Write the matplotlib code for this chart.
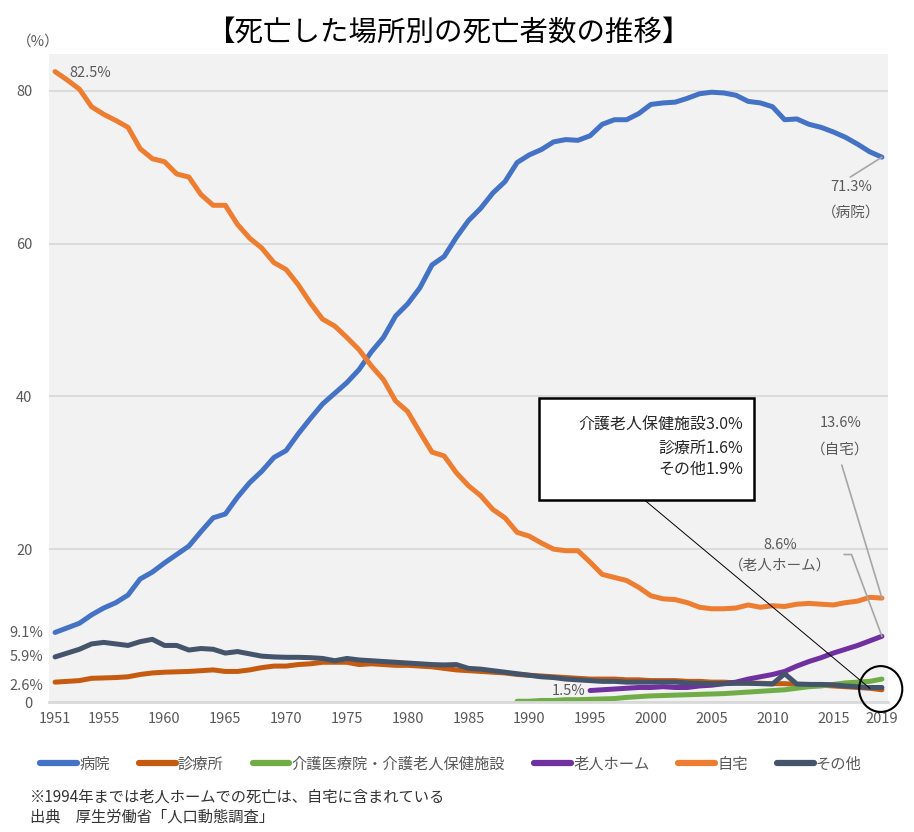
import numpy as np
import matplotlib
matplotlib.use("Agg")
import matplotlib.pyplot as plt
from matplotlib.patches import Rectangle, Ellipse

plt.rcParams['font.family'] = ['Noto Sans CJK JP', 'DejaVu Sans']

# データ（％）
years = list(range(1951, 2020))
hospital = [9.1, 9.7, 10.3, 11.4, 12.3, 13.0, 14.0, 16.1, 17.0, 18.2,
            19.3, 20.4, 22.3, 24.1, 24.6, 26.8, 28.7, 30.2, 32.0, 32.9,
            35.1, 37.1, 39.0, 40.4, 41.8, 43.5, 45.8, 47.7, 50.5, 52.1,
            54.2, 57.2, 58.3, 60.8, 63.0, 64.6, 66.6, 68.1, 70.6, 71.6,
            72.3, 73.3, 73.6, 73.5, 74.1, 75.6, 76.2, 76.2, 77.0, 78.2,
            78.4, 78.5, 79.0, 79.6, 79.8, 79.7, 79.4, 78.6, 78.4, 77.9,
            76.2, 76.3, 75.6, 75.2, 74.6, 73.9, 73.0, 72.0, 71.3]
clinic = [2.6, 2.7, 2.8, 3.1, 3.15, 3.2, 3.3, 3.6, 3.8, 3.9,
          3.95, 4.0, 4.1, 4.2, 4.0, 4.0, 4.2, 4.5, 4.7, 4.7,
          4.9, 5.0, 5.2, 5.2, 5.2, 4.9, 5.0, 4.9, 4.8, 4.8,
          4.7, 4.6, 4.4, 4.2, 4.1, 4.0, 3.9, 3.8, 3.6, 3.5,
          3.4, 3.3, 3.2, 3.1, 3.0, 3.0, 3.0, 2.9, 2.9, 2.8,
          2.8, 2.8, 2.7, 2.7, 2.6, 2.6, 2.5, 2.5, 2.45, 2.4,
          2.4, 2.3, 2.3, 2.2, 2.1, 2.0, 1.9, 1.8, 1.6]
roken_years = list(range(1989, 2020))
roken = [0.1, 0.1, 0.2, 0.2, 0.3, 0.3, 0.35, 0.4, 0.45, 0.6,
         0.7, 0.8, 0.85, 0.9, 0.95, 1.0, 1.05, 1.1, 1.2, 1.3,
         1.4, 1.5, 1.6, 1.8, 2.0, 2.1, 2.3, 2.5, 2.6, 2.7, 3.0]
nhome_years = list(range(1995, 2020))
nhome = [1.5, 1.6, 1.7, 1.8, 1.9, 1.9, 2.0, 1.9, 1.9, 2.1,
         2.2, 2.4, 2.6, 3.0, 3.3, 3.6, 4.0, 4.7, 5.3, 5.8,
         6.4, 6.9, 7.4, 8.0, 8.6]
home = [82.5, 81.4, 80.2, 77.9, 76.9, 76.1, 75.2, 72.4, 71.1, 70.7,
        69.1, 68.7, 66.4, 65.0, 65.0, 62.5, 60.7, 59.4, 57.5, 56.6,
        54.6, 52.2, 50.1, 49.2, 47.7, 46.1, 44.0, 42.2, 39.4, 38.0,
        35.3, 32.7, 32.2, 30.0, 28.3, 27.0, 25.2, 24.1, 22.2, 21.7,
        20.8, 20.0, 19.8, 19.8, 18.3, 16.7, 16.3, 15.9, 15.0, 13.9,
        13.5, 13.4, 13.0, 12.4, 12.2, 12.2, 12.3, 12.7, 12.4, 12.6,
        12.5, 12.8, 12.9, 12.8, 12.7, 13.0, 13.2, 13.7, 13.6]
other = [5.9, 6.4, 6.9, 7.6, 7.8, 7.6, 7.4, 7.9, 8.2, 7.4,
         7.4, 6.8, 7.0, 6.9, 6.4, 6.6, 6.3, 6.0, 5.9, 5.85,
         5.85, 5.8, 5.7, 5.4, 5.7, 5.5, 5.4, 5.3, 5.2, 5.1,
         5.0, 4.9, 4.85, 4.9, 4.4, 4.3, 4.1, 3.9, 3.7, 3.5,
         3.3, 3.2, 3.0, 2.9, 2.8, 2.7, 2.7, 2.6, 2.6, 2.6,
         2.6, 2.6, 2.5, 2.45, 2.4, 2.4, 2.45, 2.45, 2.4, 2.35,
         3.7, 2.35, 2.3, 2.3, 2.25, 2.1, 2.0, 1.9, 1.9]

xtick_years = [1951, 1955, 1960, 1965, 1970, 1975, 1980, 1985, 1990,
               1995, 2000, 2005, 2010, 2015, 2019]

grey = '#595959'
fig = plt.figure(figsize=(9.14, 8.32), dpi=100)
ax = fig.add_axes([49/914, 1-702/832, (888-49)/914, (702-54)/832])
ax.set_facecolor('#F2F2F2')
ax.set_xlim(1950.5, 2019.5)
ax.set_ylim(0, 84.8)

lw = 3.6
ax.plot(years, hospital, color='#4472C4', lw=lw, solid_capstyle='round', solid_joinstyle='round', label='病院')
ax.plot(years, clinic, color='#C55A11', lw=lw, solid_capstyle='round', solid_joinstyle='round', label='診療所')
ax.plot(roken_years, roken, color='#70AD47', lw=lw, solid_capstyle='round', solid_joinstyle='round', label='介護医療院・介護老人保健施設')
ax.plot(nhome_years, nhome, color='#7030A0', lw=lw, solid_capstyle='round', solid_joinstyle='round', label='老人ホーム')
ax.plot(years, home, color='#ED7D31', lw=lw, solid_capstyle='round', solid_joinstyle='round', label='自宅')
ax.plot(years, other, color='#44546A', lw=lw, solid_capstyle='round', solid_joinstyle='round', label='その他')

for s in ['top', 'right', 'left']:
    ax.spines[s].set_visible(False)
ax.spines['bottom'].set_color('#D9D9D9')
ax.spines['bottom'].set_linewidth(2)
ax.set_yticks([0, 20, 40, 60, 80])
ax.grid(axis='y', color='#D9D9D9', lw=1.3)
ax.set_axisbelow(True)
ax.set_xticks(xtick_years)
ax.set_xticklabels([str(y) for y in xtick_years])
ax.tick_params(axis='y', length=0, pad=12, labelsize=10.5, labelcolor=grey)
ax.tick_params(axis='x', length=0, pad=7, labelsize=10.5, labelcolor=grey)

# 左側の値ラベル
ytr = ax.get_yaxis_transform()
ax.text(-0.007, hospital[0] - 0.1, '9.1%', transform=ytr, ha='right', va='center', fontsize=10.5, color=grey)
ax.text(-0.007, other[0], '5.9%', transform=ytr, ha='right', va='center', fontsize=10.5, color=grey)
ax.text(-0.007, clinic[0] - 0.5, '2.6%', transform=ytr, ha='right', va='center', fontsize=10.5, color=grey)
fig.text(38/914, 1-42/832, '（%）', ha='center', va='center', fontsize=10.5, color=grey)

# 注記
ax.text(1952.2, 82.3, '82.5%', ha='left', va='center', fontsize=10.5, color=grey)
ax.text(1994.6, nhome[0], '1.5%', ha='right', va='center', fontsize=10.5, color=grey)

ax.text(2016.5, 67.4, '71.3%', ha='center', va='center', fontsize=10.5, color=grey)
ax.text(2016.5, 64.0, '（病院）', ha='center', va='center', fontsize=10.5, color=grey)
ax.annotate('', xy=(2019, hospital[-1]), xytext=(2016.4, 68.7),
            arrowprops=dict(arrowstyle='-', color='#A6A6A6', lw=1.2, shrinkA=0, shrinkB=0))

ax.text(2015.6, 36.5, '13.6%', ha='center', va='center', fontsize=10.5, color=grey)
ax.text(2015.6, 33.0, '（自宅）', ha='center', va='center', fontsize=10.5, color=grey)
ax.annotate('', xy=(2019, home[-1]), xytext=(2015.7, 31.0),
            arrowprops=dict(arrowstyle='-', color='#A6A6A6', lw=1.2, shrinkA=0, shrinkB=0))

ax.text(2010.6, 20.5, '8.6%', ha='center', va='center', fontsize=10.5, color=grey)
ax.text(2010.6, 17.8, '（老人ホーム）', ha='center', va='center', fontsize=10.5, color=grey)
ax.plot([2015.9, 2016.5, 2019], [19.3, 19.3, nhome[-1]], color='#A6A6A6', lw=1.2)

box = Rectangle((1990.8, 26.4), 17.7, 13.4, facecolor='white', edgecolor='black', lw=1.8, zorder=5)
ax.add_patch(box)
ax.text(2007.6, 36.4, '介護老人保健施設3.0%', ha='right', va='center', fontsize=11.5, color='#262626', zorder=6)
ax.text(2007.6, 33.2, '診療所1.6%', ha='right', va='center', fontsize=11.5, color='#262626', zorder=6)
ax.text(2007.6, 30.4, 'その他1.9%', ha='right', va='center', fontsize=11.5, color='#262626', zorder=6)
ax.plot([1999.5, 2018.0], [26.4, 1.8], color='black', lw=0.7, zorder=4)
ax.add_patch(Ellipse((2018.9, 1.7), 3.55, 6.0, fill=False, edgecolor='black', lw=1.5, clip_on=False, zorder=7))

fig.text(448/914, 1-33/832, '【死亡した場所別の死亡者数の推移】', ha='center', va='center', fontsize=20.5, color='black')

handles, labels = ax.get_legend_handles_labels()
leg = fig.legend(handles, labels, loc='center', bbox_to_anchor=(451/914, 1-764/832), ncol=6,
                 frameon=False, fontsize=11, handlelength=2.4, handletextpad=0.15, columnspacing=1.9)
for t in leg.get_texts():
    t.set_color(grey)
for l in leg.get_lines():
    l.set_linewidth(4.5)

fig.text(30/914, 1-797/832, '※1994年までは老人ホームでの死亡は、自宅に含まれている', ha='left', va='center', fontsize=11, color='#333333')
fig.text(30/914, 1-817/832, '出典　厚生労働省「人口動態調査」', ha='left', va='center', fontsize=11, color='#333333')

fig.savefig('out.png', dpi=100, facecolor='white')
